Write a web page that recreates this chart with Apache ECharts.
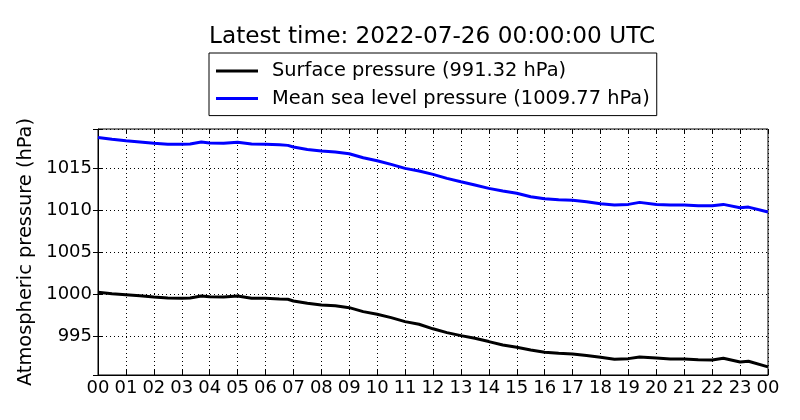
<!DOCTYPE html>
<html>
<head>
<meta charset="utf-8">
<script src="https://cdn.jsdelivr.net/npm/echarts@6/dist/echarts.min.js"></script>
<style>
html, body { margin: 0; padding: 0; background: #fff; }
#chart { width: 800px; height: 420px; }
</style>
</head>
<body>
<div id="chart"></div>
<script>
// hours after 2022-07-25 00:00 UTC
var hours = [0, 0.5, 1, 1.5, 2, 2.5, 3, 3.3, 3.7, 4, 4.5, 5, 5.5, 6, 6.5, 6.8, 7, 7.5, 8, 8.5,
  9, 9.5, 10, 10.5, 11, 11.5, 12, 12.5, 13, 13.5, 14, 14.5, 15, 15.5, 16, 16.5, 17, 17.5,
  18, 18.5, 19, 19.4, 20, 20.5, 21, 21.5, 22, 22.4, 23, 23.3, 24];

var surfacePressure = [1000.2, 1000.04, 999.92, 999.8, 999.64, 999.52, 999.48, 999.52, 999.76, 999.68,
  999.64, 999.76, 999.48, 999.48, 999.4, 999.37, 999.17, 998.89, 998.69, 998.61,
  998.37, 997.9, 997.58, 997.18, 996.71, 996.39, 995.85, 995.4, 995.04, 994.72,
  994.33, 993.93, 993.65, 993.33, 993.06, 992.94, 992.86, 992.66, 992.46, 992.22,
  992.3, 992.5, 992.38, 992.26, 992.26, 992.18, 992.14, 992.34, 991.9, 991.98, 991.32];

var seaLevelPressure = [1018.65, 1018.42, 1018.25, 1018.1, 1017.94, 1017.82, 1017.82, 1017.86, 1018.1, 1017.98,
  1017.94, 1018.06, 1017.86, 1017.82, 1017.78, 1017.7, 1017.5, 1017.22, 1017.02, 1016.9,
  1016.7, 1016.23, 1015.87, 1015.44, 1014.96, 1014.64, 1014.25, 1013.77, 1013.37, 1012.98,
  1012.58, 1012.26, 1011.99, 1011.58, 1011.33, 1011.23, 1011.15, 1010.99, 1010.75, 1010.6,
  1010.67, 1010.91, 1010.67, 1010.6, 1010.6, 1010.52, 1010.52, 1010.67, 1010.27, 1010.35, 1009.77];

var seriesNames = ['Surface pressure (991.32 hPa)', 'Mean sea level pressure (1009.77 hPa)'];
var titleText = 'Latest time: 2022-07-26 00:00:00 UTC';
var yName = 'Atmospheric pressure (hPa)';

function pairs(xs, ys){
  var out = [];
  for (var i = 0; i < xs.length; i++) out.push([xs[i], ys[i]]);
  return out;
}
function pad2(v){
  var h = Math.round(v) % 24;
  return (h < 10 ? '0' : '') + h;
}

var FONT = 'DejaVu Sans';
var yMin = 990.35, yMax = 1019.65;

var chart = echarts.init(document.getElementById('chart'));
chart.setOption({
  animation: false,
  backgroundColor: '#fff',
  textStyle: { fontFamily: FONT, color: '#000' },
  title: {
    text: titleText,
    left: 204,
    top: 20,
    textStyle: { fontFamily: FONT, fontSize: 23.2, fontWeight: 'normal', color: '#000' }
  },
  legend: {
    data: seriesNames,
    orient: 'vertical',
    left: 209,
    top: 53,
    padding: [8, 7, 7, 7],
    itemGap: 7.6,
    itemWidth: 42,
    itemHeight: 3,
    icon: 'rect',
    borderColor: '#000',
    borderWidth: 1,
    textStyle: { fontFamily: FONT, fontSize: 19.4, color: '#000', lineHeight: 20, padding: [0, 0, 0, 9] }
  },
  grid: {
    left: 98, right: 32, top: 129, bottom: 45,
    show: true, borderColor: '#000', borderWidth: 1
  },
  xAxis: [{
    type: 'value', min: 0, max: 24, interval: 1,
    axisLine: { show: true, onZero: false, lineStyle: { color: '#000', width: 1 } },
    axisTick: { inside: true, length: 5, lineStyle: { color: '#000' } },
    axisLabel: { formatter: pad2, fontFamily: FONT, fontSize: 18, color: '#000', margin: 4 },
    splitLine: { show: true, lineStyle: { color: '#000', width: 1, type: [1, 3] } }
  }, {
    type: 'value', min: 0, max: 24, interval: 1, position: 'top',
    axisLine: { show: false },
    axisTick: { show: true, inside: true, length: 5, lineStyle: { color: '#000' } },
    axisLabel: { show: false },
    splitLine: { show: false }
  }],
  yAxis: [{
    type: 'value', min: yMin, max: yMax,
    name: yName, nameLocation: 'middle', nameRotate: 90, nameGap: 53,
    nameTextStyle: { fontFamily: FONT, fontSize: 19.4, color: '#000' },
    axisLine: { show: true, onZero: false, lineStyle: { color: '#000', width: 1 } },
    axisTick: { inside: true, length: 5, lineStyle: { color: '#000' } },
    axisLabel: {
      fontFamily: FONT, fontSize: 18, color: '#000', margin: 6,
      formatter: function(v){ return Math.abs(v % 5) < 1e-6 ? String(Math.round(v)) : ''; }
    },
    splitLine: { show: true, lineStyle: { color: '#000', width: 1, type: [1, 3] } }
  }, {
    type: 'value', min: yMin, max: yMax, position: 'right',
    axisLine: { show: false },
    axisTick: { show: true, inside: true, length: 5, lineStyle: { color: '#000' } },
    axisLabel: { show: false },
    splitLine: { show: false }
  }],
  series: [{
    name: seriesNames[0],
    type: 'line',
    data: pairs(hours, surfacePressure),
    showSymbol: false,
    symbol: 'none',
    color: '#000000',
    lineStyle: { color: '#000000', width: 3 }
  }, {
    name: seriesNames[1],
    type: 'line',
    data: pairs(hours, seaLevelPressure),
    showSymbol: false,
    symbol: 'none',
    color: '#0000ff',
    lineStyle: { color: '#0000ff', width: 3 }
  }]
});
</script>
</body>
</html>
